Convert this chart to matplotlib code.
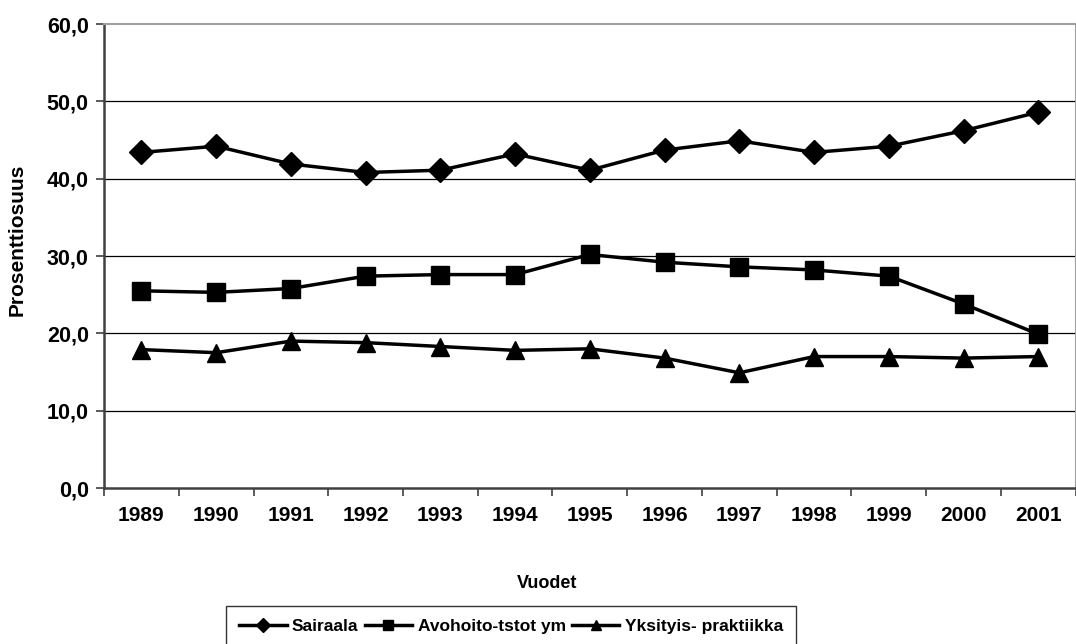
import matplotlib
matplotlib.use("Agg")
import matplotlib.pyplot as plt
from matplotlib.ticker import FuncFormatter, FixedLocator

years = ["1989", "1990", "1991", "1992", "1993", "1994", "1995",
         "1996", "1997", "1998", "1999", "2000", "2001"]
sairaala = [43.4, 44.2, 41.9, 40.8, 41.1, 43.2, 41.1, 43.7, 44.9, 43.4, 44.2, 46.2, 48.6]
avohoito = [25.5, 25.3, 25.8, 27.4, 27.6, 27.6, 30.2, 29.2, 28.6, 28.2, 27.4, 23.8, 19.9]
yksityis = [17.9, 17.5, 19.0, 18.8, 18.3, 17.8, 18.0, 16.8, 14.9, 17.0, 17.0, 16.8, 17.0]
series_names = ["Sairaala", "Avohoito-tstot ym", "Yksityis- praktiikka"]

plt.rcParams['font.family'] = ['Liberation Sans', 'DejaVu Sans']
plt.rcParams['font.weight'] = 'bold'

fig = plt.figure(figsize=(10.76, 6.44), dpi=100)
ax = fig.add_axes([0.0967, 0.2422, 0.9030, 0.7205])

x = list(range(len(years)))
ax.plot(x, sairaala, color='black', lw=2.5, marker='D', ms=12, label=series_names[0])
ax.plot(x, avohoito, color='black', lw=2.5, marker='s', ms=12.5, label=series_names[1])
ax.plot(x, yksityis, color='black', lw=2.5, marker='^', ms=12.5, label=series_names[2])

ax.set_xlim(-0.5, len(years) - 0.5)
ax.set_ylim(0, 60)
ax.set_yticks([0, 10, 20, 30, 40, 50, 60])
ax.yaxis.set_major_formatter(FuncFormatter(lambda v, p: f"{v:.1f}".replace('.', ',')))
for yv in [10, 20, 30, 40, 50]:
    ax.axhline(yv, color='black', lw=0.9, zorder=0)

ax.set_xticks(x)
ax.set_xticklabels(years)
ax.xaxis.set_minor_locator(FixedLocator([i - 0.5 for i in range(len(years) + 1)]))
ax.tick_params(axis='x', which='major', length=0, pad=13, labelsize=15)
ax.tick_params(axis='x', which='minor', length=6, width=1.2, color='#404040', direction='out')
ax.tick_params(axis='y', length=6, width=1.2, color='#404040', direction='out', labelsize=15.5, pad=5)

for side in ['top', 'right']:
    ax.spines[side].set_color('#a0a0a0')
    ax.spines[side].set_linewidth(1.5)
for side in ['left', 'bottom']:
    ax.spines[side].set_color('#404040')
    ax.spines[side].set_linewidth(1.8)

fig.text(547 / 1076, 1 - 583 / 644, "Vuodet", fontsize=13, fontweight='bold',
         ha='center', va='center')
fig.text(17 / 1076, 1 - 240 / 644, "Prosenttiosuus", fontsize=15, fontweight='bold',
         ha='center', va='center', rotation=90)

leg = fig.legend(loc='upper center', bbox_to_anchor=(511 / 1076, 1 - 606 / 644), ncol=3,
                 fontsize=12.5, frameon=True, fancybox=False, edgecolor='black',
                 markerscale=0.6, handlelength=2.75, handletextpad=0.3,
                 columnspacing=0.35, borderpad=0.75, borderaxespad=0)
leg.get_frame().set_linewidth(1.0)
for t in leg.get_texts():
    t.set_fontweight('bold')

fig.savefig("out.png", dpi=100)
